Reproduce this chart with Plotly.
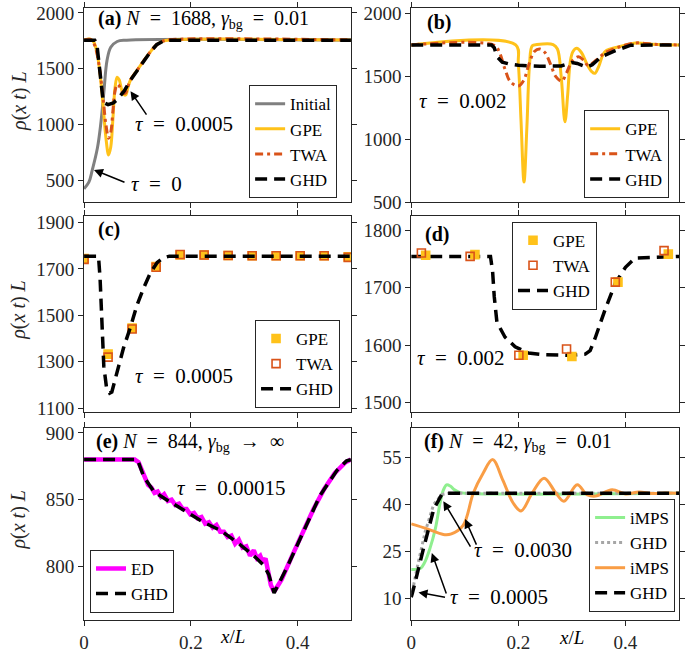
import plotly.graph_objects as go

FONT = "Liberation Serif, Tinos, Times New Roman, DejaVu Serif, serif"
C_AX = "#262626"
C_INIT = "#808080"
C_GPE = "#FFC21A"
C_TWA = "#D95319"
C_GHD = "#000000"
C_ED = "#FF00FF"
C_IMPS1 = "#8FEF8F"
C_GHD1 = "#A6A6A6"
C_IMPS2 = "#F99D45"

# ---------------- panel (a) ----------------
a_init_x = [0, 0.009, 0.015, 0.025, 0.031, 0.037, 0.043, 0.05, 0.062, 0.08, 0.5]
a_init_y = [428, 486, 587, 791, 995, 1285, 1575, 1692, 1744, 1756, 1756]
a_gpe_x = [0, 0.012, 0.018, 0.024, 0.03, 0.036, 0.041, 0.046, 0.05, 0.054, 0.058, 0.062, 0.066,
           0.07, 0.074, 0.078, 0.082, 0.087, 0.1, 0.112, 0.124, 0.136, 0.148, 0.16, 0.5]
a_gpe_y = [1758, 1765, 1740, 1650, 1450, 1150, 880, 730, 800, 1050, 1330, 1425, 1400,
           1320, 1270, 1265, 1330, 1400, 1490, 1573, 1650, 1715, 1748, 1758, 1758]
a_twa_x = [0, 0.012, 0.018, 0.024, 0.03, 0.036, 0.041, 0.046, 0.05, 0.054, 0.058, 0.062, 0.066,
           0.07, 0.074, 0.078, 0.082, 0.087, 0.1, 0.112, 0.124, 0.136, 0.148, 0.16, 0.5]
a_twa_y = [1758, 1762, 1730, 1640, 1470, 1220, 1000, 880, 930, 1120, 1300, 1360, 1345,
           1300, 1280, 1285, 1340, 1400, 1490, 1573, 1650, 1715, 1748, 1760, 1758]
a_ghd_x = [0, 0.02, 0.024, 0.028, 0.032, 0.036, 0.045, 0.055, 0.062, 0.075, 0.087, 0.1, 0.112,
           0.124, 0.136, 0.148, 0.158, 0.5]
a_ghd_y = [1756, 1756, 1720, 1550, 1330, 1200, 1180, 1195, 1224, 1300, 1398, 1490, 1573,
           1650, 1715, 1748, 1756, 1756]

# ---------------- panel (b) ----------------
b_gpe_x = [0, 0.195, 0.2, 0.205, 0.2106, 0.216, 0.221, 0.226, 0.235, 0.265, 0.273, 0.28, 0.287,
           0.292, 0.297, 0.302, 0.309, 0.318, 0.328, 0.337, 0.343, 0.35, 0.362, 0.39, 0.42, 0.45, 0.5]
b_gpe_y = [1752, 1752, 1600, 1150, 660, 1100, 1600, 1745, 1755, 1755, 1720, 1500, 1140,
           1350, 1620, 1700, 1725, 1690, 1600, 1540, 1526, 1580, 1700, 1740, 1768, 1758, 1752]
b_twa_x = [0, 0.155, 0.165, 0.175, 0.185, 0.2, 0.21, 0.22, 0.23, 0.24, 0.25, 0.26, 0.27, 0.281,
           0.29, 0.3, 0.312, 0.322, 0.33, 0.345, 0.362, 0.39, 0.42, 0.45, 0.5]
b_twa_y = [1752, 1750, 1690, 1560, 1460, 1425, 1470, 1600, 1700, 1720, 1690, 1600, 1500, 1464,
           1530, 1620, 1658, 1630, 1590, 1630, 1690, 1738, 1768, 1758, 1752]
b_ghd_x = [0, 0.15, 0.155, 0.16, 0.17, 0.185, 0.2, 0.24, 0.28, 0.3, 0.31, 0.328, 0.338, 0.355,
           0.38, 0.41, 0.5]
b_ghd_y = [1752, 1752, 1730, 1660, 1615, 1598, 1590, 1582, 1585, 1612, 1605, 1575, 1595, 1658,
           1705, 1750, 1752]

# ---------------- panel (c) ----------------
c_ghd_x = [0, 0.027, 0.03, 0.033, 0.037, 0.042, 0.048, 0.052, 0.06, 0.074, 0.087, 0.099, 0.112,
           0.124, 0.137, 0.149, 0.16, 0.5]
c_ghd_y = [1755, 1755, 1660, 1450, 1280, 1190, 1165, 1170, 1240, 1360, 1450, 1543, 1620,
           1682, 1728, 1748, 1755, 1755]
c_pts_x = [0, 0.045, 0.09, 0.135, 0.18, 0.225, 0.27, 0.315, 0.36, 0.405, 0.45, 0.495]
c_gpe_y = [1745, 1333, 1445, 1710, 1760, 1760, 1758, 1757, 1757, 1757, 1757, 1752]
c_twa_y = [1741, 1320, 1441, 1707, 1762, 1760, 1758, 1757, 1757, 1757, 1757, 1750]

# ---------------- panel (d) ----------------
d_ghd_x = [0, 0.148, 0.152, 0.155, 0.16, 0.175, 0.194, 0.219, 0.25, 0.3, 0.325, 0.334, 0.343,
           0.362, 0.381, 0.4, 0.418, 0.5]
d_ghd_y = [1755, 1755, 1728, 1685, 1640, 1614, 1597, 1586, 1583, 1582, 1584, 1590, 1611,
           1662, 1708, 1736, 1752, 1755]
d_gpe_x = [0.027, 0.119, 0.209, 0.300, 0.386, 0.48]
d_gpe_y = [1757, 1758, 1582, 1580, 1710, 1759]
d_twa_x = [0.019, 0.11, 0.201, 0.29, 0.381, 0.472]
d_twa_y = [1761, 1755, 1582, 1593, 1710, 1765]

# ---------------- panel (e) ----------------
e_ed_x = [0, 0.05, 0.095, 0.102, 0.108, 0.114, 0.12, 0.126, 0.132, 0.138, 0.144, 0.15, 0.157,
          0.164, 0.171, 0.178, 0.185, 0.192, 0.199, 0.206, 0.213, 0.22, 0.227, 0.234, 0.241,
          0.248, 0.255, 0.262, 0.269, 0.276, 0.283, 0.29, 0.297, 0.304, 0.311, 0.318, 0.324,
          0.33, 0.335, 0.34, 0.345, 0.35, 0.356, 0.37, 0.39, 0.41, 0.43, 0.45, 0.47, 0.49, 0.5]
e_ed_y = [880, 880, 880, 878, 872, 866, 861, 859, 855, 856, 852, 854, 849,
          850, 846, 847, 843, 843, 839, 840, 836, 837, 832, 833, 829,
          831, 826, 826, 822, 823, 817, 820, 814, 815, 808, 812, 806,
          808, 803, 806, 795, 786, 781, 790, 808, 825, 843, 858, 870, 878, 880]
e_ghd_x = [0, 0.1, 0.112, 0.131, 0.15, 0.174, 0.199, 0.224, 0.255, 0.287, 0.318, 0.336, 0.346,
           0.356, 0.38, 0.411, 0.442, 0.474, 0.492, 0.5]
e_ghd_y = [880, 880, 867, 856, 851, 845, 839, 833, 827, 818, 808, 801, 794,
           780, 799, 826, 853, 872, 879, 880]

# ---------------- panel (f) ----------------
f_imps1_x = [0, 0.017, 0.025, 0.035, 0.045, 0.054, 0.06, 0.066, 0.073, 0.08, 0.09, 0.1, 0.5]
f_imps1_y = [19.3, 19.6, 21.5, 26, 32.2, 40.5, 44.5, 46.2, 45.8, 44.7, 43.8, 43.5, 43.5]
f_ghd1_x = [0, 0.011, 0.026, 0.042, 0.057, 0.07, 0.5]
f_ghd1_y = [10.5, 19.8, 31.2, 40, 43.1, 43.5, 43.5]
f_imps2_x = [0, 0.03, 0.06, 0.075, 0.097, 0.116, 0.134, 0.152, 0.171, 0.19, 0.205, 0.226, 0.248,
             0.27, 0.285, 0.31, 0.328, 0.344, 0.375, 0.4, 0.425, 0.45, 0.475, 0.5]
f_imps2_y = [33.8, 32.2, 30.4, 30.6, 33.3, 43.6, 49.8, 54.2, 47.7, 40.5, 37.9, 43.6, 48.3,
             43.6, 41, 46.2, 43.1, 42.6, 44.6, 43.3, 43.9, 43.4, 43.6, 43.5]
f_ghd2_x = [0, 0.002, 0.023, 0.042, 0.057, 0.065, 0.5]
f_ghd2_y = [10.5, 11.6, 26, 38.4, 43.1, 43.5, 43.5]

x_ticks = [0, 0.2, 0.4]
x_ticktext = ["0", "0.2", "0.4"]
y_ranges = [[308, 2044], [500, 2047], [1084, 1929], [1483, 1826], [760, 904], [3.3, 64.4]]
y_ticks = [[500, 1000, 1500, 2000], [500, 1000, 1500, 2000], [1100, 1300, 1500, 1700, 1900],
           [1500, 1600, 1700, 1800], [800, 850, 900], [10, 25, 40, 55]]

W, H = 685, 662
GHD_DASH = "12px,7px"
TWA_DASH = "8px,4px,3px,4px"

fig = go.Figure()


def line(x, y, k, name, color, width, dash="solid", shape="linear"):
    sfx = "" if k == 1 else str(k)
    fig.add_trace(go.Scatter(x=x, y=y, xaxis="x" + sfx, yaxis="y" + sfx, mode="lines", name=name,
                             line=dict(color=color, width=width, dash=dash, shape=shape),
                             legend="legend" + sfx))


def marks(x, y, k, name, symbol, color, fill):
    sfx = "" if k == 1 else str(k)
    fig.add_trace(go.Scatter(x=x, y=y, xaxis="x" + sfx, yaxis="y" + sfx, mode="markers", name=name,
                             marker=dict(symbol=symbol, size=8, color=fill,
                                         line=dict(color=color, width=1.6)),
                             legend="legend" + sfx))


# (a)
line(a_init_x, a_init_y, 1, "Initial", C_INIT, 3, shape="spline")
line(a_gpe_x, a_gpe_y, 1, "GPE", C_GPE, 3, shape="spline")
line(a_twa_x, a_twa_y, 1, "TWA", C_TWA, 3, TWA_DASH, shape="spline")
line(a_ghd_x, a_ghd_y, 1, "GHD", C_GHD, 3.5, GHD_DASH)
# (b)
line(b_gpe_x, b_gpe_y, 2, "GPE", C_GPE, 3, shape="spline")
line(b_twa_x, b_twa_y, 2, "TWA", C_TWA, 3, TWA_DASH, shape="spline")
line(b_ghd_x, b_ghd_y, 2, "GHD", C_GHD, 3.5, GHD_DASH)
# (c)
marks(c_pts_x, c_gpe_y, 3, "GPE", "square", C_GPE, C_GPE)
marks(c_pts_x, c_twa_y, 3, "TWA", "square-open", C_TWA, C_TWA)
line(c_ghd_x, c_ghd_y, 3, "GHD", C_GHD, 3.5, GHD_DASH)
# (d)
fig.add_trace(go.Scatter(x=d_ghd_x, y=d_ghd_y, xaxis="x4", yaxis="y4", mode="lines", showlegend=False,
                         line=dict(color=C_GHD, width=3.5, dash=GHD_DASH), legend="legend4"))
marks(d_gpe_x, d_gpe_y, 4, "GPE", "square", C_GPE, C_GPE)
marks(d_twa_x, d_twa_y, 4, "TWA", "square-open", C_TWA, C_TWA)
fig.add_trace(go.Scatter(x=[None], y=[None], xaxis="x4", yaxis="y4", mode="lines", name="GHD",
                         line=dict(color=C_GHD, width=3.5, dash=GHD_DASH), legend="legend4"))
# (e)
line(e_ed_x, e_ed_y, 5, "ED", C_ED, 4.5)
line(e_ghd_x, e_ghd_y, 5, "GHD", C_GHD, 3.5, GHD_DASH)
# (f)
line(f_imps1_x, f_imps1_y, 6, "iMPS", C_IMPS1, 3, shape="spline")
line(f_ghd1_x, f_ghd1_y, 6, "GHD", C_GHD1, 3, "3px,3px")
line(f_imps2_x, f_imps2_y, 6, "iMPS", C_IMPS2, 3, shape="spline")
line(f_ghd2_x, f_ghd2_y, 6, "GHD", C_GHD, 3.5, GHD_DASH)

cols = [(80, 350), (411, 682)]
rows = [(3, 202), (216, 417), (433, 630)]

layout = dict(width=W, height=H, margin=dict(l=0, r=0, t=0, b=0),
              paper_bgcolor="white", plot_bgcolor="white",
              font=dict(family=FONT, size=19, color="black"))

axis_common = dict(showline=True, linecolor=C_AX, linewidth=1, mirror="allticks", ticks="outside",
                   ticklen=5, tickwidth=1, tickcolor=C_AX, showgrid=False, zeroline=False,
                   tickfont=dict(family=FONT, size=19, color=C_AX))

for k in range(1, 7):
    r, c = (k - 1) // 2, (k - 1) % 2
    sfx = "" if k == 1 else str(k)
    layout["xaxis" + sfx] = dict(axis_common, domain=[cols[c][0] / W, cols[c][1] / W],
                                 anchor="y" + sfx, range=[0, 0.5], tickvals=x_ticks,
                                 ticktext=x_ticktext, showticklabels=(r == 2))
    layout["yaxis" + sfx] = dict(axis_common, domain=[1 - rows[r][1] / H, 1 - rows[r][0] / H],
                                 anchor="x" + sfx, range=y_ranges[k - 1], tickvals=y_ticks[k - 1])

leg_common = dict(bgcolor="white", bordercolor=C_AX, borderwidth=1, font=dict(family=FONT, size=17),
                  itemwidth=30, tracegroupgap=0)
leg_pos = {
    "legend": dict(x=247 / W, y=1 - 198 / H, xanchor="left", yanchor="bottom"),
    "legend2": dict(x=586 / W, y=1 - 198 / H, xanchor="left", yanchor="bottom"),
    "legend3": dict(x=253 / W, y=1 - 413 / H, xanchor="left", yanchor="bottom"),
    "legend4": dict(x=513 / W, y=1 - 222 / H, xanchor="left", yanchor="top"),
    "legend5": dict(x=86 / W, y=1 - 623 / H, xanchor="left", yanchor="bottom"),
    "legend6": dict(x=591 / W, y=1 - 622 / H, xanchor="left", yanchor="bottom"),
}
for name, pos in leg_pos.items():
    layout[name] = dict(leg_common, **pos)

fig.update_layout(**layout)


def text(px, py, s, anchor="left", size=19):
    fig.add_annotation(x=px / W, y=1 - py / H, xref="paper", yref="paper", text=s, showarrow=False,
                       xanchor=anchor, yanchor="middle", font=dict(family=FONT, size=size, color="black"))


def arrow(k, x, y, ax, ay):
    sfx = "" if k == 1 else str(k)
    fig.add_annotation(x=x, y=y, xref="x" + sfx, yref="y" + sfx, ax=ax, ay=ay, text="",
                       showarrow=True, arrowhead=2, arrowsize=1.2, arrowwidth=1.5, arrowcolor="black")


sp = "\u2002"
# panel labels
text(92, 15, "<b>(a)</b> <i>N</i>" + sp + "=" + sp + "1688, <i>γ</i><sub>bg</sub>" + sp + "=" + sp + "0.01", size=20)
text(425, 18, "<b>(b)</b>", size=20)
text(92, 230, "<b>(c)</b>", size=20)
text(423, 235, "<b>(d)</b>", size=20)
text(90, 448, "<b>(e)</b> <i>N</i>" + sp + "=" + sp + "844, <i>γ</i><sub>bg</sub>" + sp + "→" + sp + "∞", size=20)
text(422, 448, "<b>(f)</b> <i>N</i>" + sp + "=" + sp + "42, <i>γ</i><sub>bg</sub>" + sp + "=" + sp + "0.01", size=20)


# tau labels
def tau(v):
    return "<i>τ</i>" + sp + "=" + sp + v


TS = 21
text(130, 122, tau("0.0005"), size=TS)
text(125, 183, tau("0"), size=TS)
text(417, 98, tau("0.002"), size=TS)
text(130, 380, tau("0.0005"), size=TS)
text(415, 362, tau("0.002"), size=TS)
text(172, 495, tau("0.00015"), size=TS)
text(473, 559, tau("0.0030"), size=TS)
text(448, 607, tau("0.0005"), size=TS)

# arrows
arrow(1, 0.087, 1300, 17, 25)
arrow(1, 0.0186, 596, 32, 13)
arrow(6, 0.060, 41.0, 28, 47)
arrow(6, 0.1006, 35.3, 12, 27)
arrow(6, 0.0385, 24.5, 15, 42)
arrow(6, 0.0136, 12.0, 28, 5)

# axis titles
ylab = "<i>ρ</i>(<i>x</i> <i>t</i>) <i>L</i>"
for (r0, r1) in rows:
    fig.add_annotation(x=14 / W, y=1 - ((r0 + r1) / 2 - 4) / H, xref="paper", yref="paper", text=ylab,
                       showarrow=False, textangle=-90, xanchor="center", yanchor="middle",
                       font=dict(family=FONT, size=20, color=C_AX))
text(230, 647, "<i>x</i>/<i>L</i>", anchor="center", size=19)
text(573, 648, "<i>x</i>/<i>L</i>", anchor="center", size=19)

fig.write_html("out.html", config={"displayModeBar": False, "staticPlot": True},
               post_script="document.body.style.margin='0';document.body.style.padding='0';"
                           "document.body.style.overflow='hidden';")
